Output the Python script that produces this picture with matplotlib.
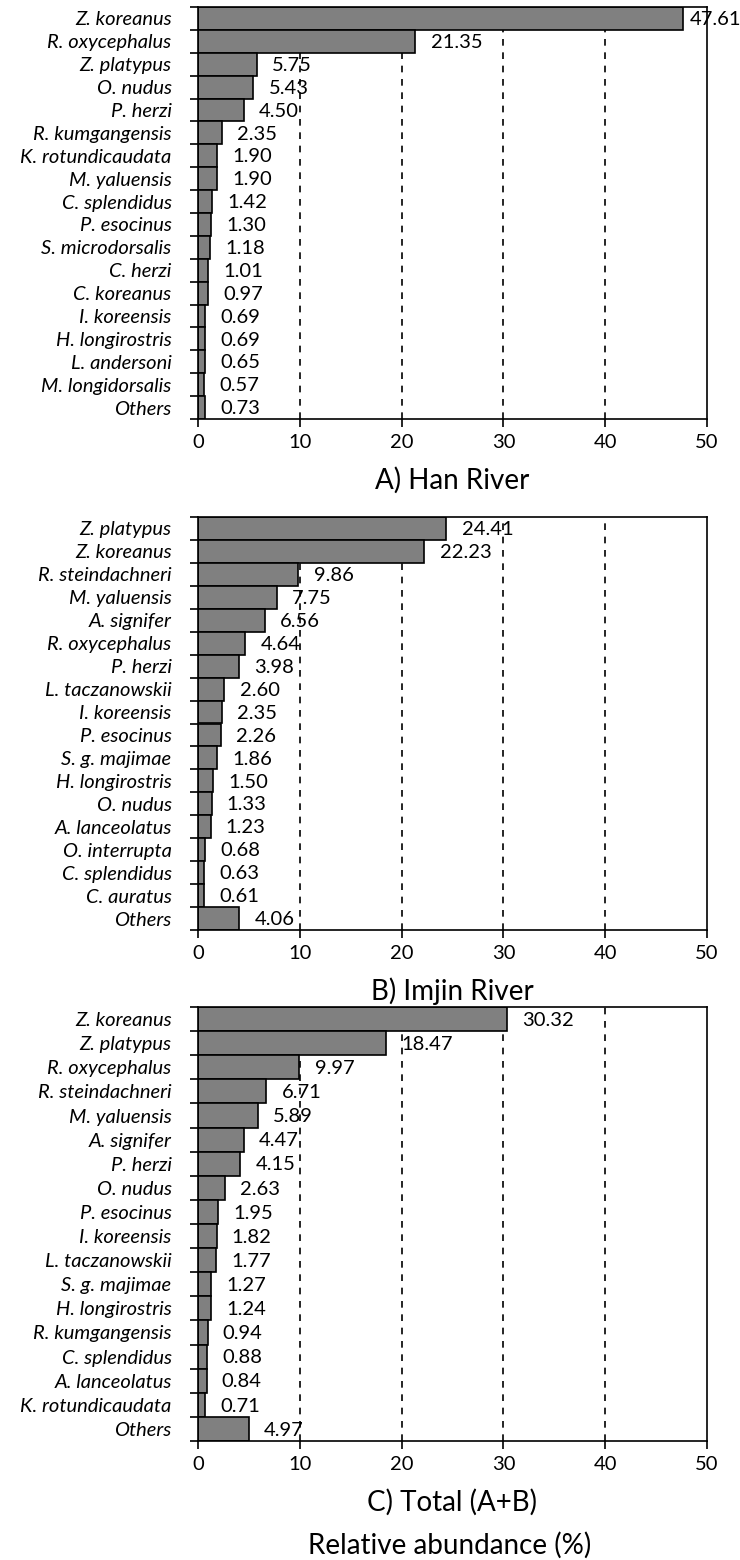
import matplotlib
matplotlib.use("Agg")
import matplotlib.pyplot as plt

plt.rcParams["font.family"] = ["Lato", "DejaVu Sans"]

han_species = ["Z. koreanus", "R. oxycephalus", "Z. platypus", "O. nudus", "P. herzi",
               "R. kumgangensis", "K. rotundicaudata", "M. yaluensis", "C. splendidus",
               "P. esocinus", "S. microdorsalis", "C. herzi", "C. koreanus", "I. koreensis",
               "H. longirostris", "L. andersoni", "M. longidorsalis", "Others"]
han_values = [47.61, 21.35, 5.75, 5.43, 4.50, 2.35, 1.90, 1.90, 1.42, 1.30, 1.18,
              1.01, 0.97, 0.69, 0.69, 0.65, 0.57, 0.73]

imjin_species = ["Z. platypus", "Z. koreanus", "R. steindachneri", "M. yaluensis", "A. signifer",
                 "R. oxycephalus", "P. herzi", "L. taczanowskii", "I. koreensis", "P. esocinus",
                 "S. g. majimae", "H. longirostris", "O. nudus", "A. lanceolatus", "O. interrupta",
                 "C. splendidus", "C. auratus", "Others"]
imjin_values = [24.41, 22.23, 9.86, 7.75, 6.56, 4.64, 3.98, 2.60, 2.35, 2.26, 1.86,
                1.50, 1.33, 1.23, 0.68, 0.63, 0.61, 4.06]

total_species = ["Z. koreanus", "Z. platypus", "R. oxycephalus", "R. steindachneri", "M. yaluensis",
                 "A. signifer", "P. herzi", "O. nudus", "P. esocinus", "I. koreensis",
                 "L. taczanowskii", "S. g. majimae", "H. longirostris", "R. kumgangensis",
                 "C. splendidus", "A. lanceolatus", "K. rotundicaudata", "Others"]
total_values = [30.32, 18.47, 9.97, 6.71, 5.89, 4.47, 4.15, 2.63, 1.95, 1.82, 1.77,
                1.27, 1.24, 0.94, 0.88, 0.84, 0.71, 4.97]

titles = ["A) Han River", "B) Imjin River", "C) Total (A+B)"]
x_ticks = [0, 10, 20, 30, 40, 50]

W, H = 740, 1560
# (top, bottom) of each panel in pixels
panel_px = [(7, 419), (517, 930), (1007, 1441)]
left_px, right_px = 198, 707

fig = plt.figure(figsize=(W / 100, H / 100), dpi=100)

panels = [(han_species, han_values), (imjin_species, imjin_values),
          (total_species, total_values)]

for (species, values), title, (top, bottom) in zip(panels, titles, panel_px):
    ax = fig.add_axes([left_px / W, 1 - bottom / H,
                       (right_px - left_px) / W, (bottom - top) / H])
    n = len(species)
    pos = list(range(n))
    for gx in [10, 20, 30, 40]:
        ax.axvline(gx, color="black", lw=1.2, ls=(0, (4, 4)), zorder=1)
    ax.barh(pos, values, height=1.0, color="#808080", edgecolor="black",
            linewidth=1.2, zorder=2)
    for p, v in zip(pos, values):
        tx = min(v + 1.5, 48.3)
        ax.text(tx, p + 0.05, f"{v:.2f}", ha="left", va="center",
                fontsize=14.5, color="black", zorder=3)
    ax.set_xlim(0, 50)
    ax.set_ylim(n - 0.5, -0.5)
    ax.set_xticks(x_ticks)
    ax.set_xticklabels([str(t) for t in x_ticks], fontsize=14.5)
    ax.set_yticks(pos)
    ax.set_yticklabels(species, fontsize=14.5, style="italic")
    ax.set_yticks([i - 0.5 for i in range(n + 1)], minor=True)
    ax.tick_params(axis="y", which="major", length=0, pad=19)
    ax.tick_params(axis="y", which="minor", length=6, width=1.2, direction="out")
    ax.tick_params(axis="x", length=6, width=1.2, direction="out", pad=5)
    for s in ax.spines.values():
        s.set_linewidth(1.2)
        s.set_color("black")
    ax.set_xlabel(title, fontsize=20, labelpad=11)

fig.text(450 / W, 1 - 1545 / H, "Relative abundance (%)", ha="center",
         va="center", fontsize=20)

fig.savefig("out.png", dpi=100)
